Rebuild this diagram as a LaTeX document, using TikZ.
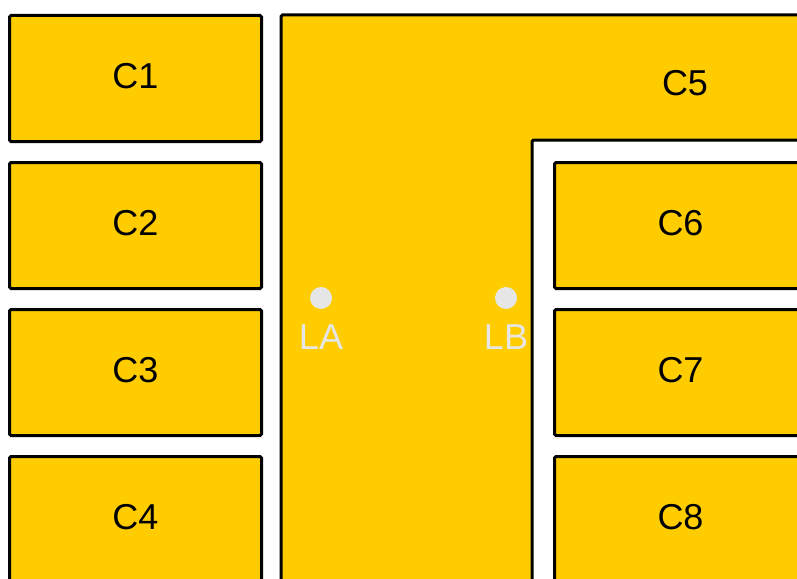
\documentclass[tikz,border=0pt]{standalone}
\usepackage{fontspec}
\setmainfont{Liberation Sans}
\usetikzlibrary{positioning}
\definecolor{cellyellow}{HTML}{FFCC00}
\definecolor{lampgray}{HTML}{E6E6E6}
\tikzset{
  cell/.style={draw=black, fill=cellyellow, line width=3pt, rounded corners=1.5pt,
    minimum width=252pt, minimum height=126pt, inner sep=0pt, anchor=north west,
    text depth=5pt, font=\fontsize{36}{40}\selectfont},
  lamp/.style={circle, fill=lampgray, minimum size=22pt, inner sep=0pt},
  lamplabel/.style={text=lampgray, inner sep=0pt, font=\fontsize{36}{40}\selectfont}
}
\begin{document}
\begin{tikzpicture}[x=1pt,y=-1pt]
  \useasboundingbox (0,0) rectangle (797,578);
  \clip (0,0) rectangle (797,578);

  % left column
  \node(c1) at (8,14)  [cell] {C1};
  \node(c2) at (8,161) [cell] {C2};
  \node(c3) at (8,308) [cell] {C3};
  \node(c4) at (8,455) [cell] {C4};

  % big L-shaped cell
  \draw[fill=cellyellow, line width=3pt, rounded corners=1.5pt]
    (281,15) -- (830,15) -- (830,140) -- (532,140) -- (532,620) -- (281,620) -- cycle;
  \node(c5) at (685,83) [font=\fontsize{36}{40}\selectfont] {C5};

  % right column
  \node(c6) at (553,161) [cell] {C6};
  \node(c7) at (553,308) [cell] {C7};
  \node(c8) at (553,455) [cell] {C8};

  % lamps
  \node(la) at (321,298) [lamp] {};
  \node(lb) at (506,298) [lamp] {};
  \node(la text) [lamplabel, below=15pt of la] {LA};
  \node(lb text) [lamplabel, below=15pt of lb] {LB};
\end{tikzpicture}
\end{document}
